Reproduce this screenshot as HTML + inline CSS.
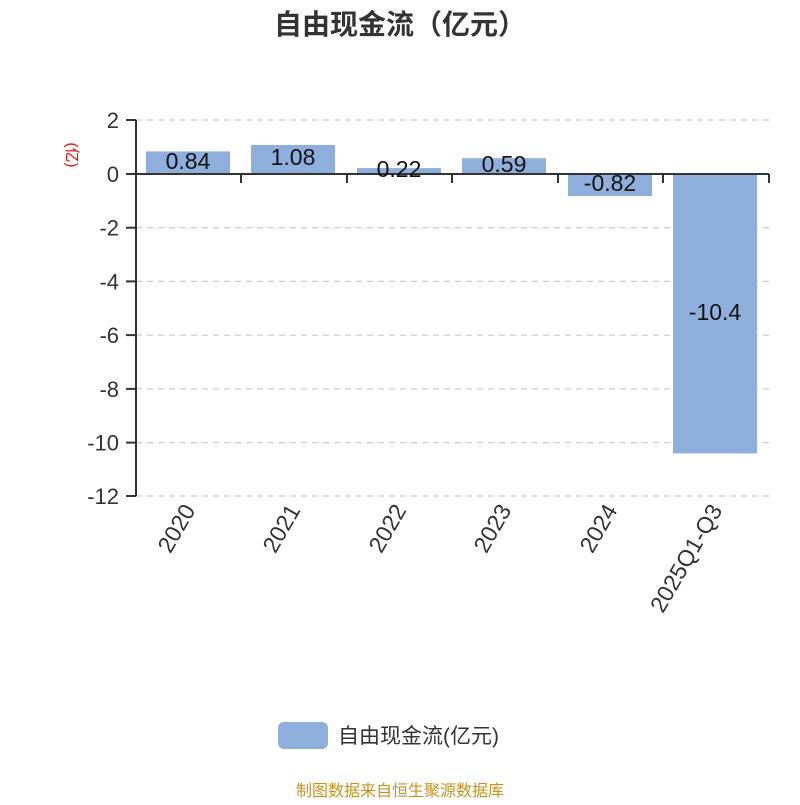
<!DOCTYPE html>
<html><head><meta charset="utf-8"><style>
html,body{margin:0;padding:0;background:#fff;}
svg text{font-family:"Liberation Sans","Noto Sans CJK SC",sans-serif;}
</style></head><body>
<svg width="800" height="800" viewBox="0 0 800 800" xmlns="http://www.w3.org/2000/svg">
<text x="400" y="34" text-anchor="middle" font-size="28" font-weight="bold" fill="#333">自由现金流（亿元）</text>
<g stroke="#ccc" stroke-width="1.3" stroke-dasharray="6,5">
<line x1="136" y1="120" x2="769" y2="120"/>
<line x1="136" y1="227.7" x2="769" y2="227.7"/>
<line x1="136" y1="281.4" x2="769" y2="281.4"/>
<line x1="136" y1="335.1" x2="769" y2="335.1"/>
<line x1="136" y1="388.9" x2="769" y2="388.9"/>
<line x1="136" y1="442.6" x2="769" y2="442.6"/>
<line x1="136" y1="496" x2="769" y2="496"/>
</g>
<g fill="#8eaedb">
<rect x="146" y="151.4" width="84" height="22.6"/>
<rect x="251" y="145" width="84" height="29"/>
<rect x="357" y="168.1" width="84" height="5.9"/>
<rect x="462" y="158.2" width="84" height="15.8"/>
<rect x="568" y="174" width="84" height="22"/>
<rect x="673" y="174" width="84" height="279.4"/>
</g>
<g stroke="#333" stroke-width="2" fill="none">
<line x1="136" y1="120" x2="136" y2="496"/>
<line x1="136" y1="174" x2="769" y2="174"/>
<line x1="126" y1="120" x2="136" y2="120"/>
<line x1="126" y1="174" x2="136" y2="174"/>
<line x1="126" y1="227.7" x2="136" y2="227.7"/>
<line x1="126" y1="281.4" x2="136" y2="281.4"/>
<line x1="126" y1="335.1" x2="136" y2="335.1"/>
<line x1="126" y1="388.9" x2="136" y2="388.9"/>
<line x1="126" y1="442.6" x2="136" y2="442.6"/>
<line x1="126" y1="496" x2="136" y2="496"/>
<line x1="241" y1="174" x2="241" y2="183"/>
<line x1="347" y1="174" x2="347" y2="183"/>
<line x1="452" y1="174" x2="452" y2="183"/>
<line x1="558" y1="174" x2="558" y2="183"/>
<line x1="663" y1="174" x2="663" y2="183"/>
<line x1="769" y1="174" x2="769" y2="183"/>
</g>
<g font-size="22" fill="#333" text-anchor="end">
<text x="119" y="128">2</text>
<text x="119" y="182">0</text>
<text x="119" y="235.7">-2</text>
<text x="119" y="289.4">-4</text>
<text x="119" y="343.1">-6</text>
<text x="119" y="396.9">-8</text>
<text x="119" y="450.6">-10</text>
<text x="119" y="504">-12</text>
</g>
<text transform="translate(67,155) rotate(90)" text-anchor="middle" font-size="15" fill="#f00">(亿)</text>
<g font-size="23" fill="#111" text-anchor="middle">
<text x="188" y="169">0.84</text>
<text x="293" y="165">1.08</text>
<text x="399" y="177">0.22</text>
<text x="504" y="172">0.59</text>
<text x="610" y="191">-0.82</text>
<text x="715" y="320">-10.4</text>
</g>
<g font-size="23" fill="#333" text-anchor="end">
<text transform="translate(196,510) rotate(-60)">2020</text>
<text transform="translate(301,510) rotate(-60)">2021</text>
<text transform="translate(407,510) rotate(-60)">2022</text>
<text transform="translate(512,510) rotate(-60)">2023</text>
<text transform="translate(618,510) rotate(-60)">2024</text>
<text transform="translate(723,510) rotate(-60)">2025Q1-Q3</text>
</g>
<rect x="278" y="722" width="50" height="27" rx="6" fill="#8eaedb"/>
<text x="338" y="743" font-size="21" fill="#333">自由现金流(亿元)</text>
<text x="400" y="796" text-anchor="middle" font-size="16" fill="#c8911e">制图数据来自恒生聚源数据库</text>
</svg>
</body></html>
